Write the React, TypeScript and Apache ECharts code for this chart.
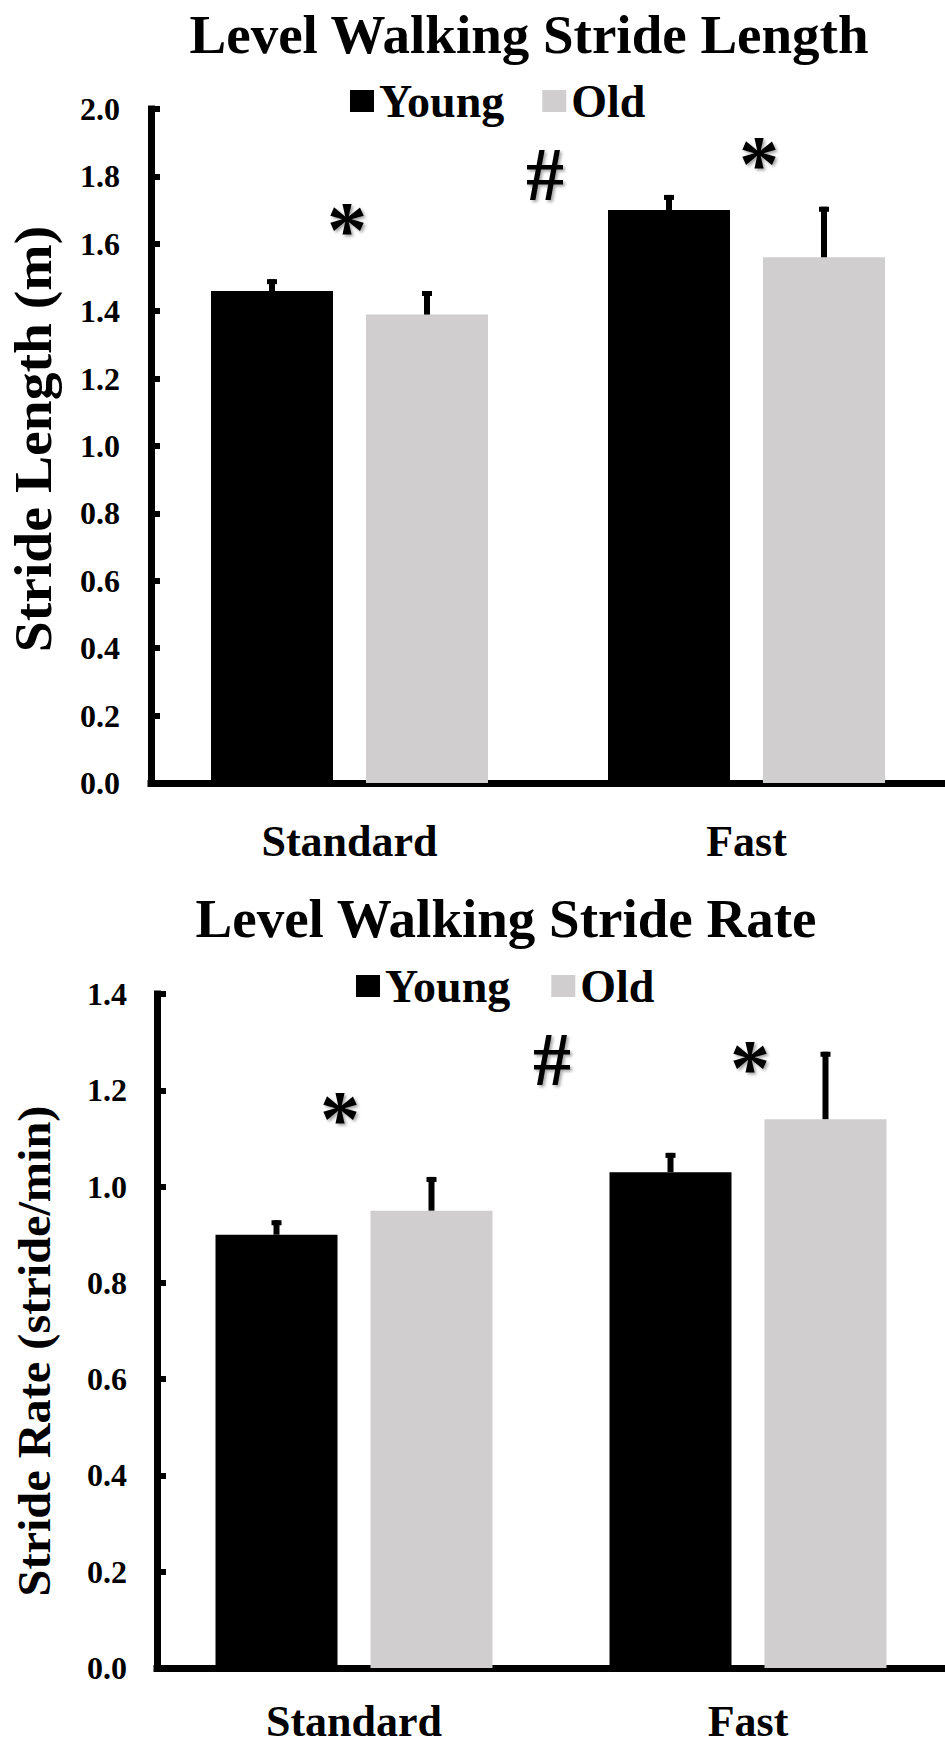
import React, { useEffect, useRef } from "react";
import * as echarts from "echarts";

const categories = ["Standard", "Fast"];
const lengthYoung = [1.46, 1.7];
const lengthYoungErr = [0.035, 0.045];
const lengthOld = [1.39, 1.56];
const lengthOldErr = [0.07, 0.15];
const rateYoung = [0.9, 1.03];
const rateYoungErr = [0.03, 0.04];
const rateOld = [0.95, 1.14];
const rateOldErr = [0.07, 0.14];
const lengthTicks = { min: 0, max: 2.0, interval: 0.2 };
const rateTicks = { min: 0, max: 1.4, interval: 0.2 };
const seriesNames = ["Young", "Old"];

const FONT = '"Liberation Serif", "Times New Roman", Times, serif';
const YOUNG_COLOR = "#000000";
const OLD_COLOR = "#d0cecf";
const BAR_W = 122;
const GAP_PX = 33;
const HALF = (BAR_W + GAP_PX) / 2;

function errRender(offset: number) {
  return (params: any, api: any) => {
    const idx = api.value(0);
    const v = api.value(1);
    const e = api.value(2);
    const base = api.coord([idx, v]);
    const top = api.coord([idx, v + e]);
    const cx = base[0] + offset;
    return {
      type: "group",
      children: [
        {
          type: "rect",
          shape: { x: cx - 3, y: top[1], width: 6, height: base[1] - top[1] },
          style: { fill: "#000" },
        },
        {
          type: "rect",
          shape: { x: cx - 5, y: top[1], width: 10, height: 5 },
          style: { fill: "#000" },
        },
      ],
    };
  };
}

function xAxisCfg(gridIndex: number, margin: number) {
  return {
    type: "category",
    gridIndex,
    data: categories,
    offset: 3.5,
    axisLine: { show: true, lineStyle: { color: "#000", width: 7, cap: "square" } },
    axisTick: { show: false },
    axisLabel: {
      fontSize: 44,
      fontWeight: "bold",
      fontFamily: FONT,
      color: "#000",
      margin,
      verticalAlign: "middle",
    },
    splitLine: { show: false },
  };
}

function yAxisCfg(gridIndex: number, t: any, margin: number) {
  return {
    type: "value",
    gridIndex,
    min: t.min,
    max: t.max,
    interval: t.interval,
    axisLine: { show: true, lineStyle: { color: "#000", width: 7, cap: "square" } },
    axisTick: { show: true, inside: true, length: 9, lineStyle: { color: "#000", width: 6 } },
    axisLabel: {
      formatter: (v: number) => v.toFixed(1),
      fontSize: 32,
      fontWeight: "bold",
      fontFamily: FONT,
      color: "#000",
      margin,
    },
    splitLine: { show: false },
  };
}

function barSeries(name: string, data: number[], color: string, axis: number) {
  return {
    type: "bar",
    name,
    data,
    xAxisIndex: axis,
    yAxisIndex: axis,
    barWidth: BAR_W,
    barGap: (GAP_PX / BAR_W) * 100 + "%",
    itemStyle: { color },
    silent: true,
  };
}

function errSeries(name: string, vals: number[], errs: number[], offset: number, axis: number) {
  return {
    type: "custom",
    name,
    xAxisIndex: axis,
    yAxisIndex: axis,
    data: vals.map((v, i) => [i, v, errs[i]]),
    encode: { x: 0, y: 1 },
    renderItem: errRender(offset),
    z: 5,
    silent: true,
  };
}

function txt(
  text: string,
  x: number,
  y: number,
  size: number,
  weight: string,
  rotation = 0,
  shadow = false,
  scaleX = 1
) {
  const style: any = {
    text,
    fontSize: size,
    fontWeight: weight,
    fontFamily: FONT,
    fill: "#000",
    align: "center",
    verticalAlign: "middle",
  };
  if (shadow) {
    style.textShadowColor = "rgba(0,0,0,0.35)";
    style.textShadowBlur = 3;
    style.textShadowOffsetX = 2;
    style.textShadowOffsetY = 2;
  }
  return { type: "text", x, y, rotation, scaleX, style, silent: true };
}

function legendCfg(left: number, top: number, gap: number) {
  return {
    data: seriesNames,
    left,
    top,
    orient: "horizontal",
    icon: "rect",
    itemWidth: 24,
    itemHeight: 22,
    itemGap: gap,
    selectedMode: false,
    textStyle: { fontSize: 46, fontWeight: "bold", fontFamily: FONT, color: "#000" },
  };
}

export default function App() {
  const ref = useRef<HTMLDivElement>(null);
  useEffect(() => {
    if (!ref.current) return;
    const chart = echarts.init(ref.current, null, { renderer: "svg" });
    chart.setOption({
      animation: false,
      backgroundColor: "#fff",
      legend: [legendCfg(345, 73, 38), legendCfg(351, 958, 41)],
      grid: [
        { left: 151, top: 109, width: 802, height: 674 },
        { left: 157, top: 994, width: 803, height: 674 },
      ],
      xAxis: [xAxisCfg(0, 54.5), xAxisCfg(1, 50)],
      yAxis: [yAxisCfg(0, lengthTicks, 31), yAxisCfg(1, rateTicks, 30)],
      series: [
        barSeries("Young", lengthYoung, YOUNG_COLOR, 0),
        barSeries("Old", lengthOld, OLD_COLOR, 0),
        errSeries("YoungErrL", lengthYoung, lengthYoungErr, -HALF, 0),
        errSeries("OldErrL", lengthOld, lengthOldErr, HALF, 0),
        barSeries("Young", rateYoung, YOUNG_COLOR, 1),
        barSeries("Old", rateOld, OLD_COLOR, 1),
        errSeries("YoungErrR", rateYoung, rateYoungErr, -HALF, 1),
        errSeries("OldErrR", rateOld, rateOldErr, HALF, 1),
      ],
      graphic: [
        txt("Level Walking Stride Length", 529, 34, 55, "bold"),
        txt("Level Walking Stride Rate", 506, 918, 55, "bold"),
        txt("Stride Length (m)", 34, 439, 52, "bold", Math.PI / 2, false, 1.07),
        txt("Stride Rate (stride/min)", 34, 1351, 46, "bold", Math.PI / 2, false, 1.05),
        txt("*", 347, 230, 80, "bold", 0, true),
        txt("#", 545, 174, 76, "bold", 0, true),
        txt("*", 759, 164, 80, "bold", 0, true),
        txt("*", 340, 1119, 80, "bold", 0, true),
        txt("#", 552, 1059, 76, "bold", 0, true),
        txt("*", 750, 1068, 80, "bold", 0, true),
      ],
    });
    return () => chart.dispose();
  }, []);
  return (
    <div
      ref={ref}
      style={{ position: "absolute", left: 0, top: 0, width: 945, height: 1745 }}
    />
  );
}
